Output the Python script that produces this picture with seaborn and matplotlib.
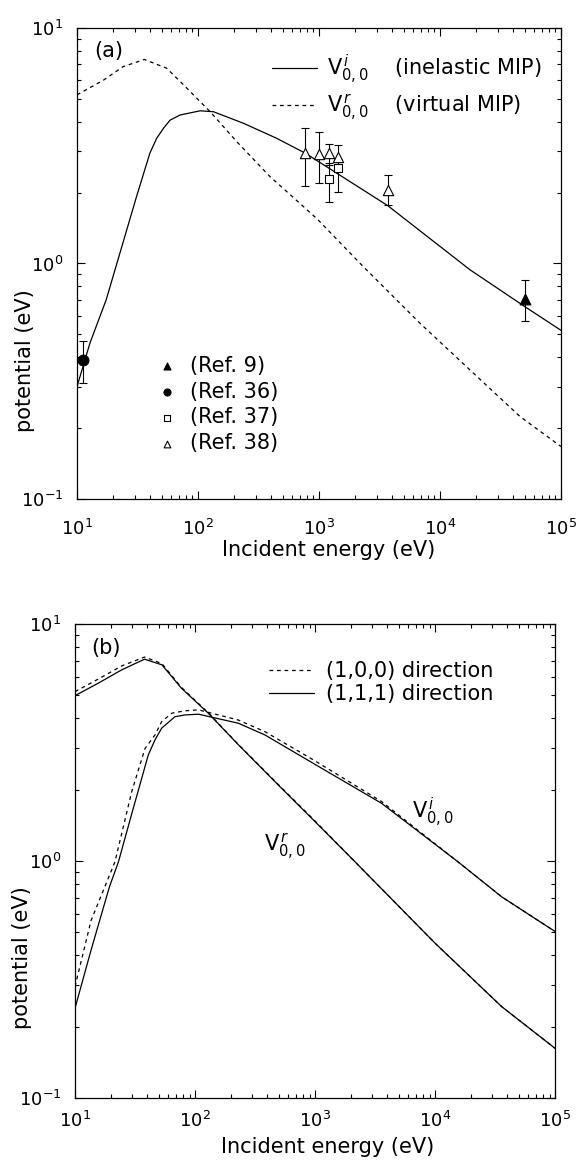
import numpy as np
import pandas as pd
import seaborn as sns
import matplotlib
matplotlib.use("Agg")
import matplotlib.pyplot as plt
from matplotlib.ticker import LogLocator, NullFormatter

# ---- panel (a): model curves
a_vi_E = [10, 12.8, 17.4, 20.6, 31, 40, 45.5, 52, 58.7, 71, 104, 134, 237, 447, 770, 1000, 3700, 17700, 50400, 100000]
a_vi_V = [0.30, 0.46, 0.70, 0.94, 1.92, 2.94, 3.40, 3.76, 4.06, 4.27, 4.45, 4.41, 3.94, 3.40, 2.94, 2.70, 1.76, 0.94, 0.655, 0.52]
a_vr_E = [10, 16.5, 24, 36, 55, 76, 126, 209, 393, 960, 2320, 6840, 17700, 45800, 100000]
a_vr_V = [5.2, 6.0, 6.85, 7.35, 6.75, 5.73, 4.41, 3.29, 2.34, 1.55, 0.97, 0.557, 0.353, 0.224, 0.167]

# ---- panel (a): experimental points
ref9_E, ref9_V, ref9_lo, ref9_hi = [50400], [0.71], [0.57], [0.85]
ref36_E, ref36_V, ref36_lo, ref36_hi = [11.1], [0.39], [0.31], [0.47]
ref37_E, ref37_V = [1210, 1440], [2.28, 2.55]
ref37_lo, ref37_hi = [1.82, 2.01], [2.66, 2.78]
ref38_E = [760, 990, 1210, 1440, 3700]
ref38_V = [2.94, 2.92, 2.94, 2.84, 2.06]
ref38_lo = [2.13, 2.20, 2.62, 2.60, 1.77]
ref38_hi = [3.77, 3.63, 3.21, 3.17, 2.38]

# ---- panel (b): (1,1,1) and (1,0,0) directions
b_vr111_E = [10, 15.6, 24.5, 38, 53, 77, 129, 230, 495, 968, 2080, 10000, 35900, 100000]
b_vr111_V = [4.98, 5.62, 6.4, 7.1, 6.72, 5.36, 4.2, 3.09, 2.09, 1.49, 1.01, 0.45, 0.243, 0.162]
b_vr100_E = [10, 15.6, 24.5, 38, 53, 77, 129, 230, 495, 968, 2080, 10000, 35900, 100000]
b_vr100_V = [5.18, 5.85, 6.65, 7.25, 6.8, 5.4, 4.22, 3.1, 2.1, 1.5, 1.01, 0.45, 0.243, 0.162]
b_vi111_E = [10, 13.6, 19.4, 23, 29.7, 40.8, 46.4, 52.7, 68, 82.6, 107, 230, 383, 968, 3590, 15600, 35900, 100000]
b_vi111_V = [0.239, 0.42, 0.78, 0.99, 1.58, 2.8, 3.24, 3.63, 4.06, 4.13, 4.16, 3.81, 3.40, 2.58, 1.75, 0.99, 0.706, 0.504]
b_vi100_E = [10, 13.6, 21.5, 29.7, 38.3, 46.4, 52.7, 64, 82.5, 107, 230, 383, 968, 3590, 15600, 35900, 100000]
b_vi100_V = [0.295, 0.56, 0.99, 1.96, 2.98, 3.40, 3.87, 4.2, 4.3, 4.34, 3.93, 3.51, 2.67, 1.78, 0.99, 0.706, 0.504]

sns.set_style("ticks")
plt.rcParams["font.family"] = ["DejaVu Sans"]
plt.rcParams["mathtext.fontset"] = "dejavusans"
plt.rcParams["text.color"] = "k"
plt.rcParams["axes.labelcolor"] = "k"
plt.rcParams["xtick.color"] = "k"
plt.rcParams["ytick.color"] = "k"

fig = plt.figure(figsize=(5.8, 11.61), dpi=100)
ax_a = fig.add_axes([0.1328, 0.5702, 0.8345, 0.4057])
ax_b = fig.add_axes([0.1293, 0.0543, 0.8276, 0.4083])

LW = 0.9
DASH = (0, (3, 3))


def style_axes(ax, xpad, ypad):
    ax.set_xscale("log")
    ax.set_yscale("log")
    ax.set_xlim(10, 1e5)
    ax.set_ylim(0.1, 10)
    ax.xaxis.set_major_locator(LogLocator(base=10, numticks=10))
    ax.xaxis.set_minor_locator(LogLocator(base=10, subs=np.arange(2, 10), numticks=20))
    ax.yaxis.set_minor_locator(LogLocator(base=10, subs=np.arange(2, 10), numticks=20))
    ax.xaxis.set_minor_formatter(NullFormatter())
    ax.yaxis.set_minor_formatter(NullFormatter())
    ax.tick_params(which="both", direction="in", top=True, right=True, color="k", width=0.8)
    ax.tick_params(which="major", length=5.5, labelsize=13, labelcolor="k")
    ax.tick_params(which="minor", length=3)
    ax.tick_params(axis="x", which="major", pad=xpad)
    ax.tick_params(axis="y", which="major", pad=ypad)
    for s in ax.spines.values():
        s.set_linewidth(0.9)
        s.set_color("k")
    ax.set_xlabel("Incident energy (eV)", fontsize=15, color="k")
    ax.set_ylabel("potential (eV)", fontsize=15, color="k")


# ---------------- panel (a)
sns.lineplot(x=a_vi_E, y=a_vi_V, ax=ax_a, color="k", lw=LW, sort=False,
             label=r"$\mathrm{V}^{\,i}_{0,0}$    (inelastic MIP)")
sns.lineplot(x=a_vr_E, y=a_vr_V, ax=ax_a, color="k", lw=LW, sort=False,
             linestyle=DASH, label=r"$\mathrm{V}^{\,r}_{0,0}$    (virtual MIP)")

refs = [
    (ref9_E, ref9_V, ref9_lo, ref9_hi, "^", "k", 60, "(Ref. 9)"),
    (ref36_E, ref36_V, ref36_lo, ref36_hi, "o", "k", 60, "(Ref. 36)"),
    (ref37_E, ref37_V, ref37_lo, ref37_hi, "s", "white", 35, "(Ref. 37)"),
    (ref38_E, ref38_V, ref38_lo, ref38_hi, "^", "white", 55, "(Ref. 38)"),
]
for E, V, lo, hi, mk, fc, sz, lab in refs:
    yerr = [np.array(V) - np.array(lo), np.array(hi) - np.array(V)]
    ax_a.errorbar(E, V, yerr=yerr, fmt="none", ecolor="k", elinewidth=0.8,
                  capsize=3, capthick=0.8, zorder=3)
    sns.scatterplot(x=E, y=V, ax=ax_a, marker=mk, s=sz, color=fc,
                    edgecolor="k", linewidth=0.8, zorder=4, label=lab)

style_axes(ax_a, xpad=14, ypad=10)
ax_a.xaxis.set_label_coords(0.52, -0.088)
ax_a.yaxis.set_label_coords(-0.086, 0.293)

handles, labels = ax_a.get_legend_handles_labels()
leg1 = ax_a.legend(handles[:2], labels[:2], loc="upper left",
                   bbox_to_anchor=(0.403, 0.948), frameon=False, fontsize=15,
                   handlelength=2.15, handletextpad=0.5, labelspacing=0.3,
                   borderpad=0, borderaxespad=0)
ax_a.add_artist(leg1)
ax_a.legend(handles[2:], labels[2:], loc="upper left",
            bbox_to_anchor=(0.165, 0.304), frameon=False, fontsize=15,
            handlelength=0.95, handletextpad=0.62, labelspacing=0.28,
            markerscale=0.65, borderpad=0, borderaxespad=0)
ax_a.text(0.066, 0.951, "(a)", transform=ax_a.transAxes, fontsize=15,
          ha="center", va="center")

# ---------------- panel (b)
sns.lineplot(x=b_vr100_E, y=b_vr100_V, ax=ax_b, color="k", lw=LW, sort=False,
             linestyle=DASH, label="(1,0,0) direction")
sns.lineplot(x=b_vr111_E, y=b_vr111_V, ax=ax_b, color="k", lw=LW, sort=False,
             label="(1,1,1) direction")
sns.lineplot(x=b_vi100_E, y=b_vi100_V, ax=ax_b, color="k", lw=LW, sort=False,
             linestyle=DASH)
sns.lineplot(x=b_vi111_E, y=b_vi111_V, ax=ax_b, color="k", lw=LW, sort=False)

style_axes(ax_b, xpad=9, ypad=10)
ax_b.xaxis.set_label_coords(0.527, -0.082)
ax_b.yaxis.set_label_coords(-0.09, 0.297)

h, l = ax_b.get_legend_handles_labels()
ax_b.legend(h[:2], l[:2], loc="upper left", bbox_to_anchor=(0.405, 0.922),
            frameon=False, fontsize=15, handlelength=2.15, handletextpad=0.55,
            labelspacing=0.15, borderpad=0, borderaxespad=0)
ax_b.text(0.065, 0.949, "(b)", transform=ax_b.transAxes, fontsize=15,
          ha="center", va="center")
ax_b.text(0.4375, 0.53, r"$\mathrm{V}^{\,r}_{0,0}$", transform=ax_b.transAxes,
          fontsize=15, ha="center", va="center")
ax_b.text(0.746, 0.603, r"$\mathrm{V}^{\,i}_{0,0}$", transform=ax_b.transAxes,
          fontsize=15, ha="center", va="center")

fig.savefig("out.png", dpi=100)
